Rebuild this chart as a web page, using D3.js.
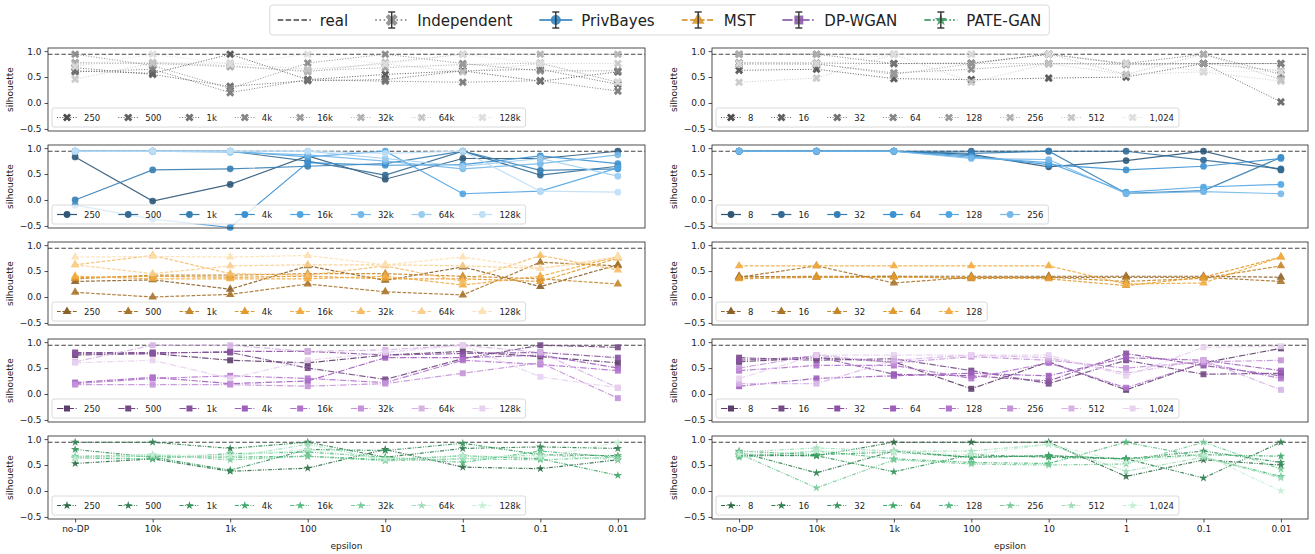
<!DOCTYPE html>
<html>
<head>
<meta charset="utf-8">
<script src="https://cdn.jsdelivr.net/npm/d3@7"></script>
<style>
  body { margin: 0; background: #fff; }
  text { font-family: "DejaVu Sans", sans-serif; fill: #222; }
</style>
</head>
<body>
<svg id="chart" width="1315" height="554"></svg>
<script>
// Silhouette score vs. epsilon, per synthesizer, for dataset size (left) and domain size (right).

var epsilons = ["no-DP", "10k", "1k", "100", "10", "1", "0.1", "0.01"];
var sizesLeft = ["250", "500", "1k", "4k", "16k", "32k", "64k", "128k"];
var sizesRight = ["8", "16", "32", "64", "128", "256", "512", "1,024"];
var methodNames = ["Independent", "PrivBayes", "MST", "DP-WGAN", "PATE-GAN"];
var realSilhouette = 0.94;
var yTicks = [-0.5, 0.0, 0.5, 1.0];

// one row per size, one value per epsilon
var independentLeft = [
    [0.62, 0.57, 0.94, 0.45, 0.55, 0.62, 0.42, 0.60],
    [0.68, 0.55, 0.32, 0.43, 0.45, 0.62, 0.65, 0.36],
    [0.60, 0.65, 0.20, 0.45, 0.42, 0.40, 0.43, 0.23],
    [0.94, 0.72, 0.28, 0.77, 0.94, 0.76, 0.62, 0.62],
    [0.78, 0.76, 0.70, 0.62, 0.68, 0.74, 0.77, 0.40],
    [0.75, 0.78, 0.72, 0.60, 0.78, 0.94, 0.94, 0.94],
    [0.46, 0.77, 0.77, 0.65, 0.75, 0.60, 0.76, 0.76],
    [0.70, 0.94, 0.75, 0.94, 0.75, 0.94, 0.76, 0.40]
];
var independentRight = [
    [0.63, 0.65, 0.47, 0.45, 0.48, 0.50, 0.76, 0.76],
    [0.77, 0.77, 0.76, 0.76, 0.94, 0.75, 0.76, 0.02],
    [0.94, 0.94, 0.76, 0.77, 0.94, 0.76, 0.94, 0.55],
    [0.75, 0.75, 0.58, 0.65, 0.76, 0.76, 0.76, 0.76],
    [0.77, 0.76, 0.55, 0.76, 0.76, 0.74, 0.76, 0.62],
    [0.94, 0.94, 0.94, 0.94, 0.94, 0.55, 0.94, 0.45],
    [0.40, 0.48, 0.94, 0.40, 0.76, 0.55, 0.60, 0.42],
    [0.76, 0.76, 0.94, 0.94, 0.94, 0.76, 0.62, 0.60]
];
var privbayesLeft = [
    [0.83, -0.02, 0.30, 0.85, 0.40, 0.80, 0.80, 0.94],
    [0.94, 0.94, 0.94, 0.75, 0.48, 0.94, 0.48, 0.65],
    [0.00, 0.58, 0.60, 0.65, 0.70, 0.94, 0.57, 0.60],
    [-0.10, -0.37, -0.53, 0.72, 0.67, 0.68, 0.85, 0.70],
    [0.94, 0.94, 0.94, 0.83, 0.94, 0.12, 0.17, 0.62],
    [0.94, 0.94, 0.92, 0.87, 0.75, 0.60, 0.70, 0.87],
    [0.94, 0.94, 0.94, 0.94, 0.80, 0.65, 0.80, 0.46],
    [0.94, 0.94, 0.94, 0.94, 0.90, 0.94, 0.17, 0.15]
];
var privbayesRight = [
    [0.94, 0.94, 0.94, 0.88, 0.64, 0.76, 0.94, 0.58],
    [0.94, 0.94, 0.94, 0.94, 0.94, 0.94, 0.77, 0.60],
    [0.94, 0.94, 0.94, 0.90, 0.94, 0.13, 0.18, 0.82],
    [0.94, 0.94, 0.94, 0.85, 0.68, 0.58, 0.65, 0.80],
    [0.94, 0.94, 0.94, 0.82, 0.72, 0.15, 0.25, 0.30],
    [0.94, 0.94, 0.94, 0.80, 0.78, 0.12, 0.16, 0.12]
];
var mstLeft = [
    [0.30, 0.33, 0.15, 0.60, 0.32, 0.58, 0.20, 0.62],
    [0.09, 0.00, 0.05, 0.25, 0.10, 0.04, 0.67, 0.60],
    [0.35, 0.42, 0.42, 0.45, 0.45, 0.40, 0.35, 0.25],
    [0.37, 0.40, 0.38, 0.40, 0.35, 0.35, 0.30, 0.75],
    [0.40, 0.35, 0.35, 0.35, 0.40, 0.23, 0.40, 0.78],
    [0.62, 0.80, 0.45, 0.42, 0.60, 0.30, 0.80, 0.52],
    [0.62, 0.45, 0.60, 0.62, 0.62, 0.60, 0.55, 0.75],
    [0.77, 0.78, 0.77, 0.80, 0.62, 0.77, 0.55, 0.78]
];
var mstRight = [
    [0.40, 0.38, 0.40, 0.40, 0.40, 0.40, 0.40, 0.38],
    [0.38, 0.60, 0.27, 0.38, 0.38, 0.38, 0.38, 0.30],
    [0.38, 0.40, 0.40, 0.35, 0.38, 0.30, 0.36, 0.60],
    [0.35, 0.38, 0.38, 0.38, 0.35, 0.22, 0.38, 0.77],
    [0.60, 0.60, 0.60, 0.60, 0.60, 0.25, 0.27, 0.77]
];
var dpwganLeft = [
    [0.75, 0.78, 0.65, 0.60, 0.75, 0.82, 0.72, 0.60],
    [0.80, 0.80, 0.80, 0.50, 0.28, 0.68, 0.94, 0.90],
    [0.78, 0.78, 0.82, 0.82, 0.75, 0.78, 0.80, 0.70],
    [0.22, 0.32, 0.20, 0.25, 0.70, 0.70, 0.75, 0.50],
    [0.20, 0.30, 0.35, 0.30, 0.22, 0.65, 0.57, 0.45],
    [0.18, 0.18, 0.18, 0.15, 0.20, 0.40, 0.60, -0.08],
    [0.62, 0.94, 0.94, 0.82, 0.85, 0.94, 0.80, 0.12],
    [0.60, 0.65, 0.30, 0.65, 0.80, 0.94, 0.33, 0.12]
];
var dpwganRight = [
    [0.62, 0.70, 0.62, 0.10, 0.62, 0.08, 0.60, 0.88],
    [0.70, 0.65, 0.68, 0.45, 0.20, 0.65, 0.38, 0.40],
    [0.65, 0.72, 0.38, 0.35, 0.25, 0.78, 0.55, 0.35],
    [0.15, 0.30, 0.35, 0.40, 0.35, 0.70, 0.65, 0.45],
    [0.45, 0.55, 0.55, 0.30, 0.60, 0.12, 0.60, 0.30],
    [0.50, 0.75, 0.60, 0.72, 0.65, 0.50, 0.62, 0.65],
    [0.20, 0.20, 0.65, 0.75, 0.70, 0.40, 0.65, 0.08],
    [0.30, 0.75, 0.75, 0.75, 0.75, 0.35, 0.90, 0.92]
];
var pateganLeft = [
    [0.53, 0.62, 0.38, 0.44, 0.80, 0.46, 0.43, 0.60],
    [0.94, 0.94, 0.82, 0.94, 0.65, 0.82, 0.85, 0.82],
    [0.80, 0.65, 0.40, 0.80, 0.78, 0.92, 0.70, 0.68],
    [0.65, 0.67, 0.65, 0.67, 0.60, 0.68, 0.62, 0.30],
    [0.63, 0.62, 0.72, 0.75, 0.65, 0.55, 0.77, 0.65],
    [0.67, 0.70, 0.60, 0.67, 0.58, 0.62, 0.60, 0.65],
    [0.65, 0.68, 0.65, 0.90, 0.60, 0.62, 0.70, 0.60],
    [0.62, 0.70, 0.68, 0.80, 0.62, 0.68, 0.65, 0.94]
];
var pateganRight = [
    [0.70, 0.68, 0.94, 0.94, 0.94, 0.28, 0.60, 0.50],
    [0.75, 0.35, 0.77, 0.65, 0.68, 0.62, 0.25, 0.94],
    [0.68, 0.68, 0.37, 0.70, 0.65, 0.62, 0.77, 0.55],
    [0.77, 0.70, 0.75, 0.65, 0.68, 0.62, 0.70, 0.67],
    [0.65, 0.77, 0.62, 0.55, 0.53, 0.94, 0.65, 0.28],
    [0.72, 0.06, 0.60, 0.52, 0.50, 0.52, 0.94, 0.42],
    [0.75, 0.83, 0.77, 0.77, 0.90, 0.38, 0.65, 0.25],
    [0.70, 0.77, 0.75, 0.70, 0.90, 0.55, 0.70, 0.00]
];

var valuesLeft = [independentLeft, privbayesLeft, mstLeft, dpwganLeft, pateganLeft];
var valuesRight = [independentRight, privbayesRight, mstRight, dpwganRight, pateganRight];

// Look of each synthesizer.
var styles = [
    { dash: "1,1.65", width: 1.0, symbol: d3.symbolCross, rotate: 45, size: 42, stops: ["#4e4e4e", "#8f8f8f", "#dedede"], key: "#8a8a8a" },
    { dash: null, width: 1.2, symbol: d3.symbolCircle, rotate: 0, size: 36, stops: ["#2f5878", "#3d9be0", "#bfdff6"], key: "#3b87c0" },
    { dash: "3.7,1.6", width: 1.2, symbol: d3.symbolTriangle, rotate: 0, size: 32, stops: ["#8c6128", "#f0a32e", "#fde0b4"], key: "#d8952e" },
    { dash: "6.4,1.6,1,1.6", width: 1.2, symbol: d3.symbolSquare, rotate: 0, size: 36, stops: ["#5e3e6c", "#a963c8", "#e8d2f0"], key: "#8b5ba6" },
    { dash: "4,1.4,1,1.4,1,1.4", width: 1.2, symbol: d3.symbolStar, rotate: 0, size: 22, stops: ["#2c6a44", "#3fb36e", "#c4eed5"], key: "#3d9a60" }
];
styles.forEach(function (s) {
    var interp = d3.piecewise(d3.interpolateRgb, s.stops);
    s.palette = d3.range(8).map(function (i) { return interp(i / 7); });
});

var svg = d3.select("#chart");
var colLeft = [48, 712];
var colWidth = [597, 596];
var rowTop = 48, rowStep = 97, panelH = 83;

function markerPath(style, size) {
    return d3.symbol().type(style.symbol).size(size || style.size)();
}

// Draw one panel (row = synthesizer, side = left/right).
function drawPanel (row, side) {
    var style = styles[row];
    var values = side === 0 ? valuesLeft[row] : valuesRight[row];
    var labels = side === 0 ? sizesLeft : sizesRight;
    var w = colWidth[side];
    var g = svg.append("g").attr("transform", "translate(" + colLeft[side] + "," + (rowTop + row * rowStep) + ")");

    var x = d3.scalePoint().domain(epsilons).range([0, w]).padding(0.35);
    var y = d3.scaleLinear().domain([-0.54, 1.06]).range([panelH, 0]);

    // y axis
    var yAxis = g.append("g").call(d3.axisLeft(y).tickValues(yTicks).tickFormat(d3.format(".1f")).tickSize(3.5).tickPadding(3));
    yAxis.select(".domain").remove();
    yAxis.selectAll("text").attr("font-size", 9).style("font-family", "DejaVu Sans");
    yAxis.selectAll("line").attr("stroke", "#222").attr("stroke-width", 0.8);

    g.append("text")
        .attr("transform", "translate(-35," + (panelH / 2) + ") rotate(-90)")
        .attr("text-anchor", "middle")
        .attr("font-size", 9)
        .text("silhouette");

    // x axis only on the bottom row
    if (row === 4) {
        var xAxis = g.append("g").attr("transform", "translate(0," + panelH + ")")
            .call(d3.axisBottom(x).tickSize(3.5).tickPadding(3));
        xAxis.select(".domain").remove();
        xAxis.selectAll("text").attr("font-size", 9).style("font-family", "DejaVu Sans");
        xAxis.selectAll("line").attr("stroke", "#222").attr("stroke-width", 0.8);
        g.append("text")
            .attr("x", w / 2).attr("y", panelH + 30)
            .attr("text-anchor", "middle")
            .attr("font-size", 9)
            .text("epsilon");
    }

    // real data reference
    g.append("line")
        .attr("x1", 0).attr("x2", w)
        .attr("y1", y(realSilhouette)).attr("y2", y(realSilhouette))
        .attr("stroke", "#444").attr("stroke-width", 1.2).attr("stroke-dasharray", "4.5,2.2");

    var line = d3.line()
        .x(function (d, i) { return x(epsilons[i]); })
        .y(function (d) { return y(d); });

    values.forEach(function (series, i) {
        var color = style.palette[i];
        g.append("path")
            .attr("d", line(series))
            .attr("fill", "none")
            .attr("stroke", color)
            .attr("stroke-opacity", 0.9)
            .attr("stroke-width", style.width)
            .attr("stroke-dasharray", style.dash);
        g.selectAll(null)
            .data(series)
            .enter().append("path")
            .attr("d", markerPath(style))
            .attr("transform", function (d, j) { return "translate(" + x(epsilons[j]) + "," + y(d) + ") rotate(" + style.rotate + ")"; })
            .attr("fill", color)
            .attr("fill-opacity", 0.9);
    });

    // frame
    g.append("rect")
        .attr("width", w).attr("height", panelH)
        .attr("fill", "none").attr("stroke", "#222").attr("stroke-width", 0.8);

    // size legend, lower left
    var leg = g.append("g").attr("transform", "translate(4," + (panelH - 23) + ")");
    var box = leg.append("rect")
        .attr("height", 19).attr("rx", 2)
        .attr("fill", "#fff").attr("fill-opacity", 0.8)
        .attr("stroke", "#d0d0d0").attr("stroke-width", 0.8);
    var cx = 5;
    values.forEach(function (series, i) {
        var color = style.palette[i];
        leg.append("line")
            .attr("x1", cx).attr("x2", cx + 20)
            .attr("y1", 9.5).attr("y2", 9.5)
            .attr("stroke", color).attr("stroke-width", style.width)
            .attr("stroke-dasharray", style.dash);
        leg.append("path")
            .attr("d", markerPath(style))
            .attr("transform", "translate(" + (cx + 10) + ",9.5) rotate(" + style.rotate + ")")
            .attr("fill", color);
        var t = leg.append("text")
            .attr("x", cx + 27).attr("y", 12.5)
            .attr("font-size", 8.5)
            .text(labels[i]);
        cx += 27 + t.node().getComputedTextLength() + 18;
    });
    box.attr("width", cx - 18 + 5);
}

for (var r = 0; r < 5; r++) {
    drawPanel(r, 0);
    drawPanel(r, 1);
}

// Top legend with the synthesizers.
function drawTopLegend () {
    var leg = svg.append("g").attr("transform", "translate(0,5)");
    var box = leg.append("rect")
        .attr("y", 0).attr("height", 30).attr("rx", 3)
        .attr("fill", "#fff").attr("stroke", "#d0d0d0").attr("stroke-width", 0.8);
    var items = leg.append("g");
    var cx = 8, cy = 15;
    var names = ["real"].concat(methodNames);
    names.forEach(function (name, k) {
        if (k === 0) {
            items.append("line")
                .attr("x1", cx).attr("x2", cx + 33).attr("y1", cy).attr("y2", cy)
                .attr("stroke", "#444").attr("stroke-width", 1.6).attr("stroke-dasharray", "5.5,2.4");
        } else {
            var s = styles[k - 1];
            items.append("line")
                .attr("x1", cx).attr("x2", cx + 33).attr("y1", cy).attr("y2", cy)
                .attr("stroke", s.key).attr("stroke-width", 2).attr("stroke-opacity", 0.85)
                .attr("stroke-dasharray", s.dash ? s.dash.split(",").map(function (v) { return v * 1.6; }).join(",") : null);
            items.append("path")
                .attr("d", markerPath(s, s.size * 2.2))
                .attr("transform", "translate(" + (cx + 16.5) + "," + cy + ") rotate(" + s.rotate + ")")
                .attr("fill", s.key).attr("fill-opacity", 0.9);
            var eb = items.append("g").attr("stroke", "#333").attr("stroke-width", 1.4);
            eb.append("line").attr("x1", cx + 16.5).attr("x2", cx + 16.5).attr("y1", cy - 8).attr("y2", cy + 8);
            eb.append("line").attr("x1", cx + 13).attr("x2", cx + 20).attr("y1", cy - 8).attr("y2", cy - 8);
            eb.append("line").attr("x1", cx + 13).attr("x2", cx + 20).attr("y1", cy + 8).attr("y2", cy + 8);
        }
        var t = items.append("text")
            .attr("x", cx + 42).attr("y", cy + 5.5)
            .attr("font-size", 15)
            .text(name);
        cx += 42 + t.node().getComputedTextLength() + 27;
    });
    var total = cx - 27 + 8;
    var left = 659.5 - total / 2;
    box.attr("x", left).attr("width", total);
    items.attr("transform", "translate(" + left + ",0)");
}
drawTopLegend();
</script>
</body>
</html>
